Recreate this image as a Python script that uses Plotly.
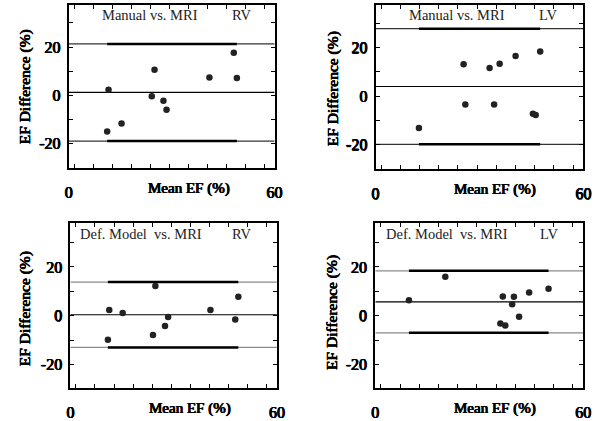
import plotly.graph_objects as go
from plotly.subplots import make_subplots

# ---------------- data ----------------
rv_manual_mean = [11.6, 11.2, 15.4, 25.0, 24.2, 27.6, 28.5, 41.0, 48.1, 49.0]
rv_manual_diff = [2.3, -15.0, -11.7, 10.6, -0.4, -2.3, -6.0, 7.4, 17.7, 7.2]
rv_manual_limits = [21.3, 1.2, -19.0]

lv_manual_mean = [12.5, 25.4, 25.9, 32.9, 34.2, 35.8, 40.4, 45.4, 46.2, 47.5]
lv_manual_diff = [-13.1, 13.2, -3.4, 11.6, -3.4, 13.4, 16.6, -7.2, -7.7, 18.4]
lv_manual_limits = [27.8, 4.0, -19.8]

rv_model_mean = [11.3, 10.9, 15.2, 24.0, 24.7, 27.5, 28.4, 40.7, 47.9, 48.8]
rv_model_diff = [2.3, -9.9, 1.1, -7.9, 12.2, -4.2, -0.5, 2.3, -1.6, 7.8]
rv_model_limits = [13.8, 0.4, -13.0]

lv_model_mean = [9.7, 20.2, 36.1, 36.8, 37.5, 39.5, 40.0, 41.5, 44.4, 50.0]
lv_model_diff = [6.3, 16.0, -3.2, 7.9, -4.0, 4.7, 7.8, -0.4, 9.5, 11.0]
lv_model_limits = [18.4, 5.7, -7.0]

panel_titles = ["Manual vs. MRI", "Manual vs. MRI", "Def. Model  vs. MRI", "Def. Model  vs. MRI"]
panel_chambers = ["RV", "LV", "RV", "LV"]
x_tick_vals = [0, 60]
x_tick_text = ["0", "60"]
y_tick_vals = [-20, 0, 20]
y_tick_text = ["-20", "0", "20"]
x_title = "Mean EF (%)"
y_title = "EF Difference (%)"

# ---------------- layout geometry ----------------
W, H = 616, 421
SERIF = "Liberation Serif"
FAKE_BOLD = "0.5px 0 0 black, -0.5px 0 0 black, 0 0.35px 0 black"

panels = [
    dict(mean=rv_manual_mean, diff=rv_manual_diff, lim=rv_manual_limits,
         box=(66, 276, 5, 170), yr=[-30, 37.5], thin="#333333",
         title_x=149, chamber_x=243, title_y=15, xt_x=189, yt=(21, 88)),
    dict(mean=lv_manual_mean, diff=lv_manual_diff, lim=lv_manual_limits,
         box=(379, 591, 5, 171.5), yr=[-30, 37.6], thin="#333333",
         title_x=462, chamber_x=555, title_y=15, xt_x=501, yt=(335, 90)),
    dict(mean=rv_model_mean, diff=rv_model_diff, lim=rv_model_limits,
         box=(67.7, 278.3, 226.7, 393.3), yr=[-29.5, 37.8], thin="#8a8a8a",
         title_x=140, chamber_x=243, title_y=237, xt_x=190, yt=(21, 313)),
    dict(mean=lv_model_mean, diff=lv_model_diff, lim=lv_model_limits,
         box=(378.7, 590.7, 226.7, 393.3), yr=[-29.5, 37.8], thin="#8a8a8a",
         title_x=452, chamber_x=556, title_y=237, xt_x=501, yt=(335, 317)),
]

fig = make_subplots(rows=2, cols=2)

annotations = []
for i, p in enumerate(panels):
    r, c = i // 2 + 1, i % 2 + 1
    x0, x1, y0, y1 = p["box"]
    lo_x, hi_x = min(p["mean"]), max(p["mean"])
    for k, val in enumerate(p["lim"]):
        if k == 1:
            fig.add_trace(go.Scatter(x=[0, 60], y=[val, val], mode="lines",
                                     line=dict(color="black", width=1.2),
                                     showlegend=False, hoverinfo="skip"), row=r, col=c)
        else:
            fig.add_trace(go.Scatter(x=[0, 60], y=[val, val], mode="lines",
                                     line=dict(color=p["thin"], width=1.3),
                                     showlegend=False, hoverinfo="skip"), row=r, col=c)
            fig.add_trace(go.Scatter(x=[lo_x, hi_x], y=[val, val], mode="lines",
                                     line=dict(color="black", width=2.4),
                                     showlegend=False, hoverinfo="skip"), row=r, col=c)
    fig.add_trace(go.Scatter(x=p["mean"], y=p["diff"], mode="markers",
                             marker=dict(color="#222222", size=6.5),
                             showlegend=False), row=r, col=c)

    xa = "xaxis" if i == 0 else f"xaxis{i+1}"
    ya = "yaxis" if i == 0 else f"yaxis{i+1}"
    fig.layout[xa].update(
        domain=[x0 / W, x1 / W], range=[0, 60],
        tickmode="array", tickvals=x_tick_vals, ticktext=x_tick_text,
        ticks="", showgrid=False, zeroline=False,
        showline=True, linecolor="black", linewidth=2, mirror="ticks",
        ticklabelstandoff=9,
        tickfont=dict(family=SERIF, size=16, color="black", shadow=FAKE_BOLD),
        minor=dict(ticks="inside", tick0=1.6, dtick=5.54, ticklen=4,
                   tickcolor="black", tickwidth=1, showgrid=False),
    )
    fig.layout[ya].update(
        domain=[1 - y1 / H, 1 - y0 / H], range=p["yr"],
        tickmode="array", tickvals=y_tick_vals, ticktext=y_tick_text,
        ticks="inside", ticklen=4, tickcolor="black", tickwidth=1,
        showgrid=False, zeroline=False,
        showline=True, linecolor="black", linewidth=2, mirror="ticks",
        ticklabelstandoff=3,
        tickfont=dict(family=SERIF, size=16, color="black", shadow=FAKE_BOLD),
        minor=dict(ticks="inside", tick0=0, dtick=10, ticklen=4,
                   tickcolor="black", tickwidth=1, showgrid=False),
    )

    annotations += [
        dict(x=p["title_x"] / W, y=1 - p["title_y"] / H, xref="paper", yref="paper",
             text=panel_titles[i], showarrow=False, xanchor="center", yanchor="middle",
             font=dict(family=SERIF, size=14.5, color="#222222")),
        dict(x=p["chamber_x"] / W, y=1 - p["title_y"] / H, xref="paper", yref="paper",
             text=panel_chambers[i], showarrow=False, xanchor="center", yanchor="middle",
             font=dict(family=SERIF, size=14.5, color="#222222")),
        dict(x=p["xt_x"] / W, y=1 - (y1 + 21) / H, xref="paper", yref="paper",
             text=x_title, showarrow=False, xanchor="center", yanchor="middle",
             font=dict(family=SERIF, size=15, color="black", shadow=FAKE_BOLD)),
        dict(x=p["yt"][0] / W, y=1 - p["yt"][1] / H, xref="paper", yref="paper",
             text=y_title, showarrow=False, xanchor="center", yanchor="middle",
             textangle=-90,
             font=dict(family=SERIF, size=15.5, color="black", shadow=FAKE_BOLD)),
    ]

fig.update_layout(
    width=W, height=H, margin=dict(l=0, r=0, t=0, b=0),
    paper_bgcolor="white", plot_bgcolor="white",
    annotations=annotations, showlegend=False,
)

fig.write_html("out.html", config={"displayModeBar": False},
               post_script="document.body.style.margin='0';")
